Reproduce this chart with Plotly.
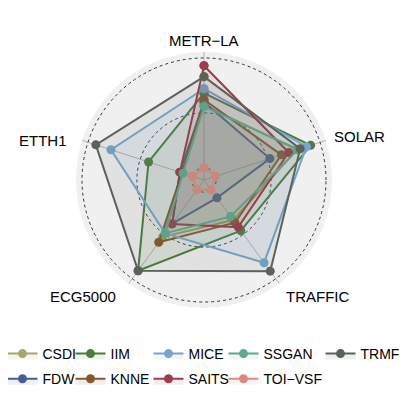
import plotly.graph_objects as go

# ---- data ----
axes_labels = ["METR−LA", "SOLAR", "TRAFFIC", "ECG5000", "ETTH1"]
methods = ["CSDI", "FDW", "IIM", "KNNE", "MICE", "SAITS", "SSGAN", "TOI−VSF", "TRMF"]
csdi = [0.57, 0.78, 0.34, 0.53, 0.10]
fdw = [0.60, 0.52, 0.09, 0.38, 0.12]
iim = [0.68, 0.91, 0.46, 0.91, 0.42]
knne = [0.62, 0.63, 0.37, 0.59, 0.10]
mice = [0.72, 0.87, 0.82, 0.49, 0.78]
saits = [0.93, 0.70, 0.42, 0.385, 0.12]
ssgan = [0.56, 0.79, 0.30, 0.49, 0.09]
toivsf = [0.0, 0.0, 0.0, 0.0, 0.0]
trmf = [0.83, 0.81, 0.915, 0.91, 0.925]
values = [csdi, fdw, iim, knne, mice, saits, ssgan, toivsf, trmf]
# legend columns (filled column-wise, like the original)
legend_columns = [["CSDI", "FDW"], ["IIM", "KNNE"], ["MICE", "SAITS"], ["SSGAN", "TOI−VSF"], ["TRMF"]]
grid_vals = [0.0, 0.5, 1.0]

colors = {
    "CSDI": (169, 166, 106),
    "FDW": (74, 95, 148),
    "IIM": (75, 123, 59),
    "KNNE": (132, 88, 46),
    "MICE": (120, 164, 207),
    "SAITS": (154, 62, 75),
    "SSGAN": (95, 168, 142),
    "TOI−VSF": (216, 140, 128),
    "TRMF": (90, 98, 90),
}

OFF = 8  # default page body margin
W = H = 407 - OFF
cx, cy = 204 - OFF, 180 - OFF
Rd = 128
r_min = -1 / 9
r_max = (1 - r_min) * Rd / 122.0 + r_min

legend_of = {}
for ci, col_items in enumerate(legend_columns):
    for ri, m in enumerate(col_items):
        legend_of[m] = ("legend" if ci == 0 else f"legend{ci + 1}", ri)

fig = go.Figure()
for m, vals in zip(methods, values):
    r, g, b = colors[m]
    col = f"rgb({r},{g},{b})"
    lg, rank = legend_of[m]
    fig.add_trace(go.Scatterpolar(
        r=vals + [vals[0]],
        theta=axes_labels + [axes_labels[0]],
        mode="lines+markers",
        fill="toself",
        fillcolor=f"rgba({r},{g},{b},0.1)",
        line=dict(color=col, width=2),
        marker=dict(size=9, color=col),
        name=m,
        legend=lg,
        legendgroup=m,
        legendrank=rank + 1,
    ))

col_x = [2.5, 70.5, 148.5, 223.5, 320.5]
legend_top = 338
legends = {}
for ci, x in enumerate(col_x):
    key = "legend" if ci == 0 else f"legend{ci + 1}"
    legends[key] = dict(orientation="v", x=(x - OFF) / W, xanchor="left",
                        y=1 - (legend_top - OFF) / H, yanchor="top",
                        font=dict(size=14), itemwidth=30, traceorder="grouped",
                        tracegroupgap=4, bgcolor="rgba(0,0,0,0)")

fig.update_layout(
    width=W, height=H,
    margin=dict(l=0, r=0, t=0, b=0, autoexpand=False),
    paper_bgcolor="white",
    font=dict(family="Liberation Sans, Arial, sans-serif", size=15, color="black"),
    polar=dict(
        domain=dict(x=[(cx - Rd) / W, (cx + Rd) / W], y=[1 - (cy + Rd) / H, 1 - (cy - Rd) / H]),
        bgcolor="#F0F0F0",
        radialaxis=dict(range=[r_min, r_max], tickvals=grid_vals, showticklabels=False,
                        showline=False, ticks="", gridcolor="#333333", griddash="3px,3px", gridwidth=1),
        angularaxis=dict(type="category", categoryarray=axes_labels, rotation=90, direction="clockwise",
                         showticklabels=False, ticks="", showline=False,
                         gridcolor="#B4B4B4", gridwidth=1),
    ),
    showlegend=True,
    **legends,
)

label_pos = {
    "METR−LA": (204, 40),
    "SOLAR": (359, 137),
    "TRAFFIC": (317, 296),
    "ECG5000": (83, 296),
    "ETTH1": (43, 140),
}
for lab in axes_labels:
    px, py = label_pos[lab]
    fig.add_annotation(x=(px - OFF) / W, y=1 - (py - OFF) / H, xref="paper", yref="paper", text=lab,
                       showarrow=False, xanchor="center", yanchor="middle", font=dict(size=15))

fig.write_html("out.html")
